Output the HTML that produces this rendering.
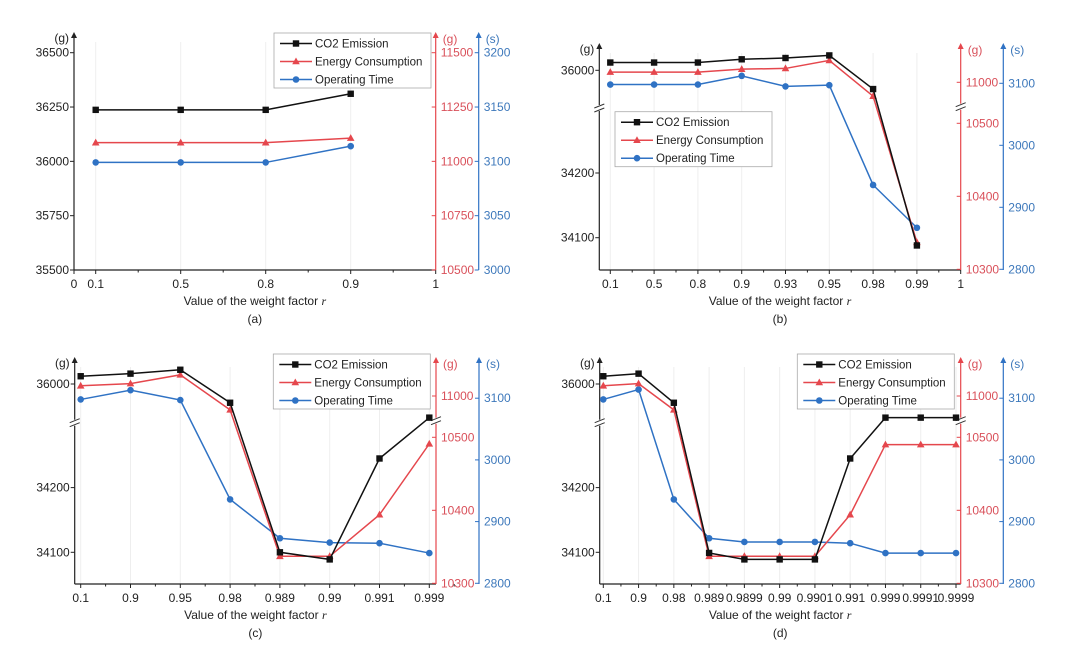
<!DOCTYPE html>
<html><head><meta charset="utf-8"><style>
body{margin:0;background:#fff}
svg text{font-family:"Liberation Sans",sans-serif}
</style></head><body>
<svg id="chart" width="1080" height="655" viewBox="0 0 1080 655" xmlns="http://www.w3.org/2000/svg"></svg>
<script>
// ---- data ----
const catsA = ['0.1','0.5','0.8','0.9'];
const co2A = [36237,36237,36237,36311];
const energyA = [11086,11086,11086,11107];
const timeA = [3099,3099,3099,3114];

const catsB = ['0.1','0.5','0.8','0.9','0.93','0.95','0.98','0.99'];
const co2B = [36012,36012,36012,36017,36019,36023,35971,34088];
const energyB = [11014,11014,11014,11018,11019,11030,10981,10337];
const timeB = [3098,3098,3098,3112,3095,3097,2936,2867];

const catsC = ['0.1','0.9','0.95','0.98','0.989','0.99','0.991','0.999'];
const co2C = [36012,36016,36022,35971,34100,34089,34245,35948];
const energyC = [11014,11017,11029,10981,10337,10337,10394,10491];
const timeC = [3098,3113,3097,2936,2873,2866,2865,2849];

const catsD = ['0.1','0.9','0.98','0.989','0.9899','0.99','0.9901','0.991','0.999','0.9991','0.9999'];
const co2D = [36012,36016,35971,34099,34089,34089,34089,34245,35948,35948,35948];
const energyD = [11014,11017,10981,10337,10337,10337,10337,10394,10490,10490,10490];
const timeD = [3098,3114,2936,2873,2867,2867,2867,2865,2849,2849,2849];

const leftTicksA = [35500,35750,36000,36250,36500];
const redTicksA = [10500,10750,11000,11250,11500];
const blueTicksA = [3000,3050,3100,3150,3200];
const leftTicksBr = [34100,34200,36000];
const redTicksBr = [10300,10400,10500,11000];
const blueTicksBr = [2800,2900,3000,3100];

// ---- rendering ----
const NS='http://www.w3.org/2000/svg';
const svg=document.getElementById('chart');
function el(tag,attrs,parent){const e=document.createElementNS(NS,tag);for(const k in attrs)e.setAttribute(k,attrs[k]);(parent||svg).appendChild(e);return e;}
function txt(s,x,y,attrs,parent){const t=el('text',Object.assign({x:x,y:y,'font-size':12},attrs),parent);t.textContent=s;return t;}
const BLK='#111',RED='#e5474d',BLU='#2f72c4',RTX='#d9505a',BTX='#3d78bb';

function makeScale(c){ // piecewise linear (broken) scale
  return v=>{
    if(c.breakV!==undefined && v>c.breakV) return c.upPx-(v-c.upV)*c.k;
    return c.loPx-(v-c.loV)*c.k;
  };
}
function brk(x,y,g){
  el('rect',{x:x-5,y:y-3,width:10,height:6,fill:'#fff'},g);
  el('line',{x1:x-5,y1:y,x2:x+5,y2:y-4,stroke:'#333','stroke-width':1},g);
  el('line',{x1:x-5,y1:y+4,x2:x+5,y2:y,stroke:'#333','stroke-width':1},g);
}
function panel(p){
  const g=el('g',{});
  
  
  const xs=i=>p.cat0+p.step*i;
  const yL=makeScale(p.left), yR=makeScale(p.red), yB=makeScale(p.blue);
  p.cats.forEach((c,i)=>el('line',{x1:xs(i),y1:p.top+10,x2:xs(i),y2:p.bottom,stroke:'#eee','stroke-width':1},g));
  const xa=el('g',{},g);
  
  
  el('line',{x1:p.leftX,y1:p.bottom,x2:p.rightX,y2:p.bottom,stroke:'#222','stroke-width':1.2},xa);
  p.cats.forEach((c,i)=>{
    el('line',{x1:xs(i),y1:p.bottom,x2:xs(i),y2:p.bottom+4,stroke:'#222'},xa);
    el('line',{x1:xs(i)+p.step/2,y1:p.bottom,x2:xs(i)+p.step/2,y2:p.bottom+2.5,stroke:'#222'},xa);
    txt(c,xs(i),p.bottom+18,{'text-anchor':'middle',fill:'#222'},xa);
  });
  (p.extra||[]).forEach(e=>{el('line',{x1:e.x,y1:p.bottom,x2:e.x,y2:p.bottom+4,stroke:'#222'},xa);txt(e.t,e.x,p.bottom+18,{'text-anchor':'middle',fill:'#222'},xa);});
  const xt=txt('Value of the weight factor ',(p.leftX+p.rightX)/2,p.bottom+35,{'text-anchor':'middle',fill:'#222'},g);
  const ti=el('tspan',{'font-style':'italic','font-family':'Liberation Serif'},xt);ti.textContent='r';
  
  
  const cap=txt('('+p.id+')',(p.leftX+p.rightX)/2,p.bottom+53,{'text-anchor':'middle',fill:'#222'},g);
  
  
  function yaxis(x,ticks,sc,color,tcolor,unit,side,name,brPx){
    const a=el('g',{},g);
    
    
    el('line',{x1:x,y1:p.bottom,x2:x,y2:p.top+4,stroke:color,'stroke-width':1.2},a);
    el('path',{d:`M${x-3},${p.top+6}L${x},${p.top}L${x+3},${p.top+6}Z`,fill:color},a);
    ticks.forEach(t=>{const y=sc(t);
      el('line',{x1:x-4,y1:y,x2:x,y2:y,stroke:color},a);
      if(side==='l')txt(String(t),x-5,y+4,{'text-anchor':'end',fill:tcolor},a);
      else txt(String(t),x+5,y+4,{fill:tcolor},a);
    });
    if(side==='l')txt(unit,x-5,p.top+10,{'text-anchor':'end',fill:tcolor},a);
    else txt(unit,x+7,p.top+11,{fill:tcolor},a);
    if(brPx!==undefined)brk(x,brPx,a);
  }
  yaxis(p.leftX,p.lt,yL,'#222','#222','(g)','l','left-y-axis',p.left.brPx);
  yaxis(p.rightX,p.rt,yR,RED,RTX,'(g)','r','energy-y-axis',p.red.brPx);
  yaxis(p.blueX,p.bt,yB,BLU,BTX,'(s)','r','time-y-axis');
  function series(vals,sc,color,mk,name){
    const s=el('g',{},g);
    
    
    el('polyline',{points:vals.map((v,i)=>xs(i)+','+sc(v)).join(' '),fill:'none',stroke:color,'stroke-width':1.5},s);
    vals.forEach((v,i)=>marker(mk,xs(i),sc(v),color,s));
  }
  series(p.time,yB,BLU,'c','time-series');
  series(p.energy,yR,RED,'t','energy-series');
  series(p.co2,yL,BLK,'s','co2-series');
  const L=el('g',{},g);
  
  
  el('rect',{x:p.lg[0],y:p.lg[1],width:p.lg[2],height:55,fill:'#fff',stroke:'#aaa','stroke-width':0.8},L);
  [['CO2 Emission',BLK,'s'],['Energy Consumption',RED,'t'],['Operating Time',BLU,'c']].forEach((e,i)=>{
    const y=p.lg[1]+10.5+i*18;
    const en=el('g',{},L);
    
    
    el('line',{x1:p.lg[0]+6,y1:y,x2:p.lg[0]+38,y2:y,stroke:e[1],'stroke-width':1.5},en);
    marker(e[2],p.lg[0]+22,y,e[1],en);
    txt(e[0],p.lg[0]+41,y+4,{fill:'#222','font-size':11.5},en);
  });
}
function marker(mk,x,y,c,par){
  if(mk==='s')el('rect',{x:x-3.2,y:y-3.2,width:6.4,height:6.4,fill:c},par);
  else if(mk==='t')el('path',{d:`M${x},${y-4}L${x+3.8},${y+2.8}L${x-3.8},${y+2.8}Z`,fill:c},par);
  else el('circle',{cx:x,cy:y,r:3.3,fill:c},par);
}
const lowC={loV:34100,loPx:552.3,upV:36000,upPx:384,k:0.647,breakV:35000,brPx:422.7};
const redC={loV:10300,loPx:583.3,upV:11000,upPx:396,k:0.73,breakV:10750,brPx:420.7};
const bluC={loV:2800,loPx:583.3,k:0.617};
panel({id:'a',leftX:74,rightX:435.7,blueX:478.7,bottom:270,top:32,cat0:95.7,step:85,cats:catsA,
  extra:[{t:'0',x:74},{t:'1',x:435.7}],co2:co2A,energy:energyA,time:timeA,
  left:{loV:35500,loPx:270,k:0.2173},red:{loV:10500,loPx:270,k:0.2173},blue:{loV:3000,loPx:270,k:1.0865},
  lt:leftTicksA,rt:redTicksA,bt:blueTicksA,lg:[274,33,157]});
panel({id:'b',leftX:599.3,rightX:960.7,blueX:1003.3,bottom:270,top:43,cat0:610.3,step:43.8,cats:catsB,
  extra:[{t:'1',x:960.7}],co2:co2B,energy:energyB,time:timeB,
  left:{loV:34100,loPx:237.7,upV:36000,upPx:70.3,k:0.647,breakV:35000,brPx:108},
  red:{loV:10300,loPx:269.3,upV:11000,upPx:82.3,k:0.73,breakV:10750,brPx:106.7},
  blue:{loV:2800,loPx:269.3,k:0.62},
  lt:leftTicksBr,rt:redTicksBr,bt:blueTicksBr,lg:[615,111.7,157]});
panel({id:'c',leftX:74.7,rightX:436,blueX:479,bottom:584,top:357,cat0:80.7,step:49.8,cats:catsC,
  co2:co2C,energy:energyC,time:timeC,left:lowC,red:redC,blue:bluC,
  lt:leftTicksBr,rt:redTicksBr,bt:blueTicksBr,lg:[273.3,354,157]});
panel({id:'d',leftX:599.7,rightX:960.7,blueX:1003.3,bottom:584,top:357,cat0:603.3,step:35.27,cats:catsD,
  co2:co2D,energy:energyD,time:timeD,left:lowC,red:redC,blue:bluC,
  lt:leftTicksBr,rt:redTicksBr,bt:blueTicksBr,lg:[797.3,354,157]});
</script>
</body></html>
